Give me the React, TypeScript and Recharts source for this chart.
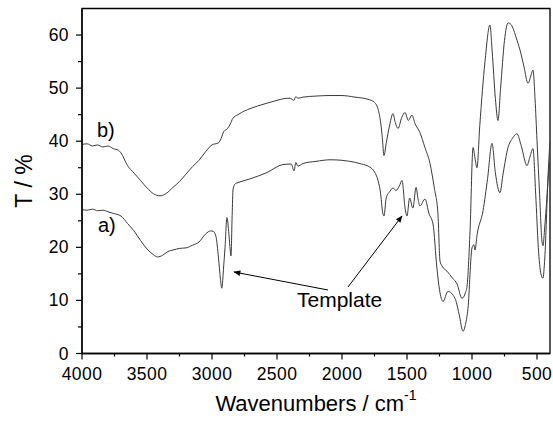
import React from 'react';
import { LineChart, Line, XAxis, YAxis, ReferenceArea } from 'recharts';

// upper trace b)
const waveB = [4000, 3960, 3920, 3880, 3840, 3800, 3760, 3720, 3700, 3650, 3600, 3550, 3500, 3450, 3400, 3350, 3300, 3250, 3200, 3150, 3100, 3050, 3000, 2950, 2930, 2910, 2880, 2860, 2840, 2800, 2750, 2700, 2600, 2500, 2450, 2400, 2370, 2355, 2340, 2300, 2200, 2100, 2000, 1900, 1800, 1750, 1720, 1700, 1690, 1677, 1660, 1631, 1608, 1590, 1569, 1540, 1515, 1490, 1462, 1438, 1400, 1362, 1323, 1290, 1262, 1246, 1231, 1192, 1150, 1115, 1077, 1050, 1038, 1015, 992, 975, 962, 940, 900, 862, 845, 820, 800, 780, 750, 723, 700, 685, 660, 631, 600, 569, 545, 531, 515, 500, 480, 462, 454, 440, 420, 408, 400];
const transB = [39.4, 39.5, 39.1, 39.3, 38.9, 39.1, 38.6, 38.3, 37.8, 35.4, 34.0, 32.6, 31.2, 30.1, 29.7, 30.2, 31.3, 32.4, 33.8, 35.2, 36.4, 38.0, 39.3, 39.7, 40.5, 41.8, 42.4, 43.2, 44.3, 45.0, 45.7, 46.2, 47.0, 47.7, 48.0, 48.1, 47.7, 48.4, 48.1, 48.3, 48.5, 48.6, 48.6, 48.3, 47.9, 47.3, 45.8, 43.0, 40.7, 37.3, 39.6, 43.3, 45.2, 43.5, 42.4, 44.5, 45.4, 43.9, 44.9, 43.3, 41.6, 38.8, 35.8, 31.2, 26.3, 17.4, 16.5, 15.5, 14.2, 13.1, 10.4, 11.5, 12.7, 23.1, 38.8, 36.5, 35.0, 43.0, 55.0, 61.9, 57.0, 48.0, 43.9, 50.0, 59.0, 62.3, 62.0, 61.3, 59.5, 57.2, 54.0, 50.9, 52.5, 53.4, 48.0, 40.1, 30.0, 21.2, 20.3, 24.0, 31.0, 36.9, 40.0];

// lower trace a)
const waveA = [4000, 3960, 3920, 3880, 3840, 3800, 3760, 3700, 3650, 3600, 3550, 3500, 3450, 3420, 3380, 3340, 3300, 3250, 3200, 3150, 3100, 3050, 3010, 2990, 2970, 2950, 2935, 2925, 2910, 2900, 2885, 2870, 2860, 2854, 2845, 2838, 2820, 2800, 2708, 2577, 2454, 2390, 2369, 2355, 2340, 2300, 2200, 2092, 2000, 1938, 1850, 1785, 1750, 1723, 1700, 1692, 1677, 1660, 1630, 1608, 1585, 1560, 1538, 1515, 1500, 1480, 1455, 1430, 1415, 1400, 1362, 1330, 1300, 1270, 1250, 1223, 1185, 1131, 1100, 1069, 1050, 1031, 1000, 985, 977, 960, 915, 880, 846, 820, 785, 760, 723, 690, 654, 620, 577, 555, 531, 510, 490, 470, 454, 440, 415, 400];
const transA = [27.1, 27.0, 27.2, 26.9, 27.0, 26.7, 26.4, 25.9, 24.5, 23.1, 21.3, 19.7, 18.6, 18.2, 18.5, 19.2, 19.5, 19.8, 19.9, 20.4, 21.0, 22.5, 23.1, 23.0, 22.1, 18.0, 14.0, 12.3, 16.5, 19.9, 25.6, 22.5, 19.5, 18.4, 26.0, 31.0, 32.0, 32.2, 32.9, 34.1, 35.6, 35.7, 34.4, 36.0, 35.3, 35.8, 36.2, 36.5, 36.4, 36.2, 35.7, 35.1, 34.2, 32.6, 29.5, 27.4, 25.9, 29.3, 30.6, 31.2, 30.7, 31.5, 32.6, 27.4, 25.9, 29.3, 27.4, 31.3, 29.1, 27.8, 29.1, 26.3, 24.4, 16.1, 12.0, 9.8, 11.7, 10.4, 7.5, 4.2, 5.5, 8.5, 19.9, 20.5, 19.5, 22.5, 26.9, 33.0, 39.6, 34.0, 30.3, 34.0, 38.8, 40.5, 41.4, 39.0, 35.4, 37.0, 38.6, 30.0, 20.0, 15.0, 14.2, 18.0, 32.6, 36.0];

const xTicks = [4000, 3750, 3500, 3250, 3000, 2750, 2500, 2250, 2000, 1750, 1500, 1250, 1000, 750, 500];
const yTicks = [0, 5, 10, 15, 20, 25, 30, 35, 40, 45, 50, 55, 60];

const dataA = waveA.map((w, i) => ({ wn: w, t: transA[i] }));
const dataB = waveB.map((w, i) => ({ wn: w, t: transB[i] }));

const FONT = '"Liberation Sans", Arial, sans-serif';

const XTick = (props: any) => {
  const { x, y, payload } = props;
  const major = payload.value % 500 === 0;
  return (
    <g>
      <line x1={x} y1={y} x2={x} y2={y + (major ? 6 : 3)} stroke="#000" strokeWidth={1.2} />
      {major && (
        <text x={x} y={y + 26} textAnchor="middle" fontSize={17.5} fontFamily={FONT} fill="#000" letterSpacing={0.4}>
          {payload.value}
        </text>
      )}
    </g>
  );
};

const YTick = (props: any) => {
  const { x, y, payload } = props;
  const major = payload.value % 10 === 0;
  return (
    <g>
      <line x1={x} y1={y} x2={x - (major ? 6 : 4)} y2={y} stroke="#000" strokeWidth={1.2} />
      {major && (
        <text x={x - 13} y={y + 6} textAnchor="end" fontSize={17.5} fontFamily={FONT} fill="#000" letterSpacing={0.4}>
          {payload.value}
        </text>
      )}
    </g>
  );
};

const XTitle = (props: any) => {
  const { viewBox } = props;
  const cx = viewBox.x + viewBox.width / 2;
  return (
    <text x={cx} y={411} textAnchor="middle" fontSize={22} fontFamily={FONT} fill="#000">
      Wavenumbers / cm
      <tspan fontSize={14} dy={-11}>-1</tspan>
    </text>
  );
};

const YTitle = (props: any) => {
  const { viewBox } = props;
  const cy = viewBox.y + viewBox.height / 2;
  return (
    <text x={32} y={cy} transform={`rotate(-90, 32, ${cy})`} textAnchor="middle" fontSize={23} fontFamily={FONT} fill="#000">
      T / %
    </text>
  );
};

export default function App() {
  return (
    <div style={{ position: 'absolute', left: 0, top: 0, width: 553, height: 421, background: '#fff' }}>
      <LineChart width={553} height={421} margin={{ top: 8.5, right: 3, left: 0, bottom: 0 }}>
        <XAxis
          type="number"
          dataKey="wn"
          domain={[400, 4000]}
          reversed
          ticks={xTicks}
          interval={0}
          tick={<XTick />}
          tickLine={false}
          tickSize={0}
          tickMargin={0}
          height={67.5}
          axisLine={{ stroke: '#000', strokeWidth: 1.3 }}
          allowDataOverflow
          label={<XTitle />}
        />
        <YAxis
          type="number"
          domain={[0, 65]}
          ticks={yTicks}
          interval={0}
          tick={<YTick />}
          tickLine={false}
          tickSize={0}
          tickMargin={0}
          width={82}
          axisLine={{ stroke: '#000', strokeWidth: 1.3 }}
          allowDataOverflow
          label={<YTitle />}
        />
        <ReferenceArea x1={400} x2={4000} y1={0} y2={65} fill="none" stroke="#000" strokeWidth={1.3} />
        <Line data={dataB} dataKey="t" type="monotone" stroke="#3a3a3a" strokeWidth={1} dot={false} isAnimationActive={false} />
        <Line data={dataA} dataKey="t" type="monotone" stroke="#3a3a3a" strokeWidth={1} dot={false} isAnimationActive={false} />
      </LineChart>
      <svg width={553} height={421} style={{ position: 'absolute', left: 0, top: 0, pointerEvents: 'none' }}>
        <defs>
          <marker id="head" viewBox="0 0 10 10" refX="9" refY="5" markerWidth="9" markerHeight="7" orient="auto">
            <path d="M0,1 L10,5 L0,9 Z" fill="#000" />
          </marker>
        </defs>
        <text x={97} y={137} fontSize={20} fontFamily={FONT} fill="#000">b)</text>
        <text x={98} y={232} fontSize={20} fontFamily={FONT} fill="#000">a)</text>
        <text x={297} y={307} fontSize={21} fontFamily={FONT} fill="#000">Template</text>
        <line x1={328} y1={290} x2={234} y2={272} stroke="#000" strokeWidth={1} markerEnd="url(#head)" />
        <line x1={348} y1={287} x2={402} y2={216} stroke="#000" strokeWidth={1} markerEnd="url(#head)" />
      </svg>
    </div>
  );
}
